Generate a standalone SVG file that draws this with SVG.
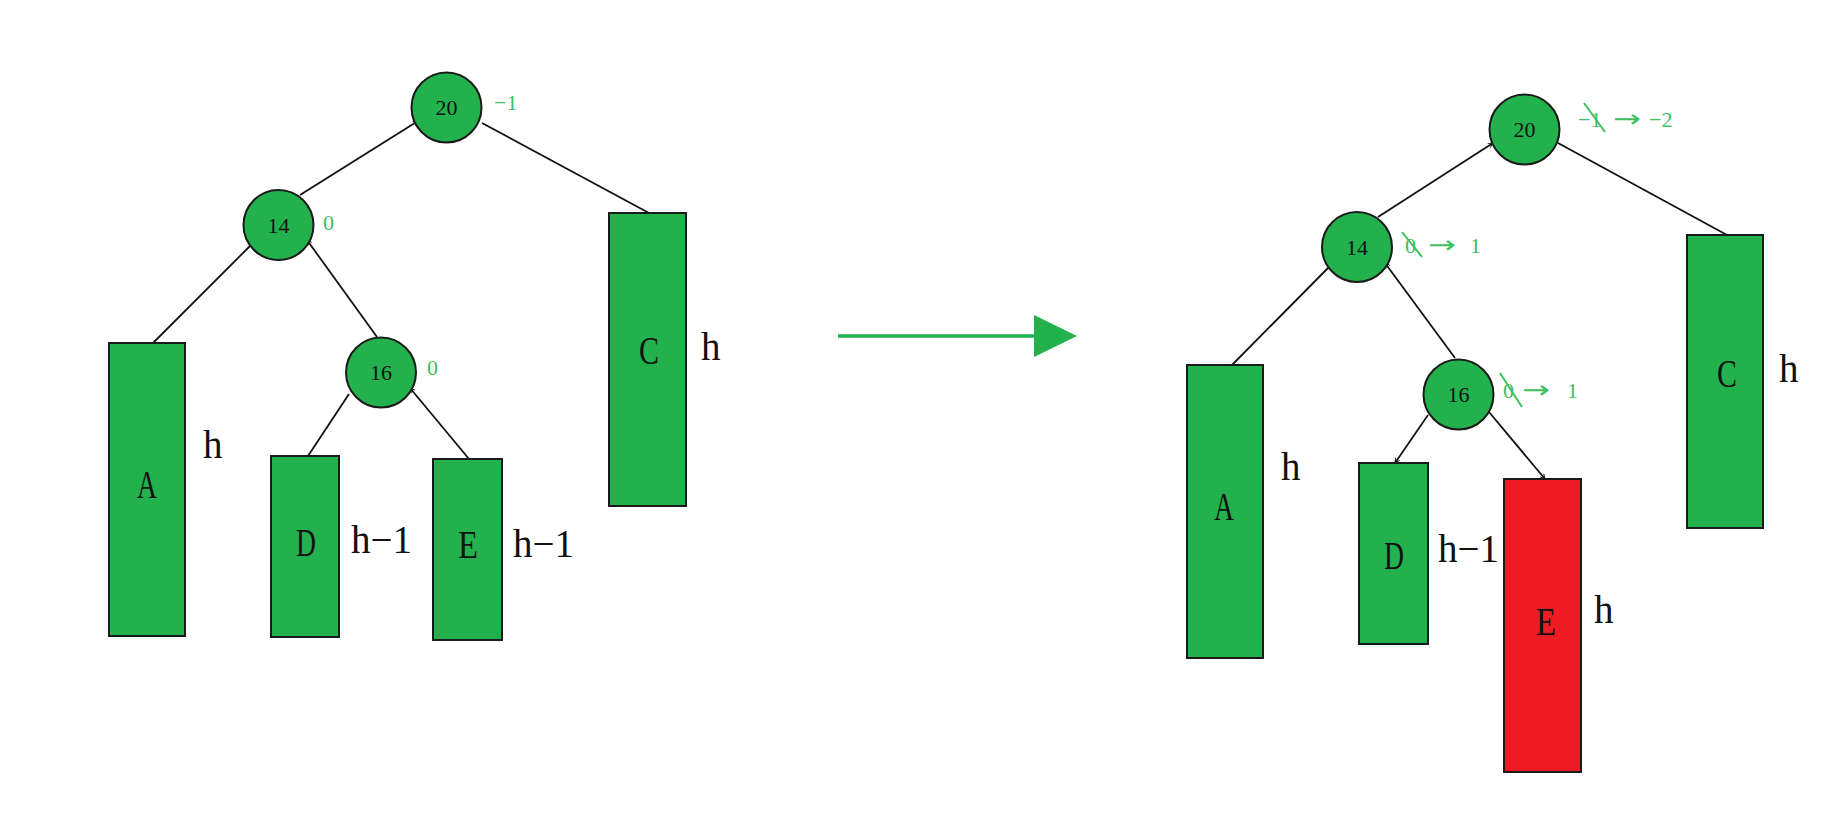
<svg xmlns="http://www.w3.org/2000/svg" width="1841" height="821" viewBox="0 0 1841 821">
<style>
.n{fill:#22b14c;stroke:#1a1a1a;stroke-width:2}
.r{fill:#ed1c24;stroke:#1a1a1a;stroke-width:2}
.e{stroke:#111;stroke-width:1.8;fill:none}
.d{font-family:"Liberation Serif",serif;font-size:22px;fill:#111;text-anchor:middle}
.L{font-family:"Liberation Serif",serif;font-size:40px;fill:#111;text-anchor:middle}
.h{font-family:"Liberation Serif",serif;font-size:39px;fill:#111}
.g{font-family:"Liberation Serif",serif;font-size:22px;fill:#3cc060}
.a{font-family:"DejaVu Sans",sans-serif;font-size:24px;fill:#3cc060}
.s{stroke:#3cc060;stroke-width:2}
</style>
<defs>
<marker id="t" viewBox="0 0 10 10" refX="9" refY="5" markerWidth="6" markerHeight="6" orient="auto" markerUnits="userSpaceOnUse">
<path d="M1,1 L9,5 L1,9" fill="none" stroke="#111" stroke-width="1.5"/>
</marker>
</defs>
<g id="connectors">
<line class="e" x1="300" y1="195" x2="418" y2="121" marker-end="url(#t)"/>
<line class="e" x1="482" y1="123" x2="649" y2="213"/>
<line class="e" x1="250" y1="246" x2="153" y2="343"/>
<line class="e" x1="377" y1="337" x2="307" y2="240" marker-end="url(#t)"/>
<line class="e" x1="349" y1="394" x2="308" y2="456"/>
<line class="e" x1="469" y1="459" x2="410" y2="388" marker-end="url(#t)"/>
<line class="e" x1="1378" y1="217" x2="1493" y2="143" marker-end="url(#t)"/>
<line class="e" x1="1558" y1="143" x2="1727" y2="235"/>
<line class="e" x1="1329" y1="267" x2="1232" y2="365"/>
<line class="e" x1="1455" y1="358" x2="1385" y2="263" marker-end="url(#t)"/>
<line class="e" x1="1428" y1="415" x2="1395" y2="463" marker-end="url(#t)"/>
<line class="e" x1="1489" y1="412" x2="1545" y2="479" marker-end="url(#t)"/>
<line x1="838" y1="336" x2="1036" y2="336" stroke="#22b14c" stroke-width="3.5"/>
<polygon points="1034,315 1077,336 1034,357" fill="#22b14c"/>
</g>
<g id="L20"><circle class="n" cx="446.5" cy="107.5" r="35"/><text class="d" x="446.5" y="115">20</text><text class="g" x="494" y="110">−1</text></g>
<g id="L14"><circle class="n" cx="278.5" cy="225" r="35"/><text class="d" x="278.5" y="233">14</text><text class="g" x="323" y="230">0</text></g>
<g id="L16"><circle class="n" cx="381" cy="372.5" r="35"/><text class="d" x="381" y="380">16</text><text class="g" x="427" y="375">0</text></g>
<g id="LA"><rect class="n" x="109" y="343" width="76" height="293"/><text class="L" x="147" y="498" textLength="20" lengthAdjust="spacingAndGlyphs">A</text><text class="h" x="203" y="458">h</text></g>
<g id="LD"><rect class="n" x="271" y="456" width="68" height="181"/><text class="L" x="306" y="556" textLength="20" lengthAdjust="spacingAndGlyphs">D</text><text class="h" x="351" y="553">h−1</text></g>
<g id="LE"><rect class="n" x="433" y="459" width="69" height="181"/><text class="L" x="468" y="558" textLength="20" lengthAdjust="spacingAndGlyphs">E</text><text class="h" x="513" y="557">h−1</text></g>
<g id="LC"><rect class="n" x="609" y="213" width="77" height="293"/><text class="L" x="649" y="364" textLength="20" lengthAdjust="spacingAndGlyphs">C</text><text class="h" x="701" y="360">h</text></g>
<g id="R20"><circle class="n" cx="1524.5" cy="129.5" r="35"/><text class="d" x="1524.5" y="137">20</text><text class="g" x="1578" y="127">−1</text><text class="a" x="1613" y="127" textLength="28" lengthAdjust="spacingAndGlyphs">→</text><text class="g" x="1649" y="127">−2</text><line class="s" x1="1584" y1="103" x2="1605" y2="132"/></g>
<g id="R14"><circle class="n" cx="1357" cy="247" r="35"/><text class="d" x="1357" y="255">14</text><text class="g" x="1405" y="253">0</text><text class="a" x="1428" y="253" textLength="28" lengthAdjust="spacingAndGlyphs">→</text><text class="g" x="1470" y="253">1</text><line class="s" x1="1402" y1="232" x2="1422" y2="257"/></g>
<g id="R16"><circle class="n" cx="1458.5" cy="394.5" r="35"/><text class="d" x="1458.5" y="402">16</text><text class="g" x="1503" y="398">0</text><text class="a" x="1522" y="398" textLength="28" lengthAdjust="spacingAndGlyphs">→</text><text class="g" x="1567" y="398">1</text><line class="s" x1="1500" y1="373" x2="1522" y2="407"/></g>
<g id="RA"><rect class="n" x="1187" y="365" width="76" height="293"/><text class="L" x="1224" y="520" textLength="20" lengthAdjust="spacingAndGlyphs">A</text><text class="h" x="1281" y="480">h</text></g>
<g id="RD"><rect class="n" x="1359" y="463" width="69" height="181"/><text class="L" x="1394" y="569" textLength="20" lengthAdjust="spacingAndGlyphs">D</text><text class="h" x="1438" y="562">h−1</text></g>
<g id="RE"><rect class="r" x="1504" y="479" width="77" height="293"/><text class="L" x="1546" y="635" textLength="20" lengthAdjust="spacingAndGlyphs">E</text><text class="h" x="1594" y="623">h</text></g>
<g id="RC"><rect class="n" x="1687" y="235" width="76" height="293"/><text class="L" x="1727" y="387" textLength="20" lengthAdjust="spacingAndGlyphs">C</text><text class="h" x="1779" y="382">h</text></g>
</svg>
